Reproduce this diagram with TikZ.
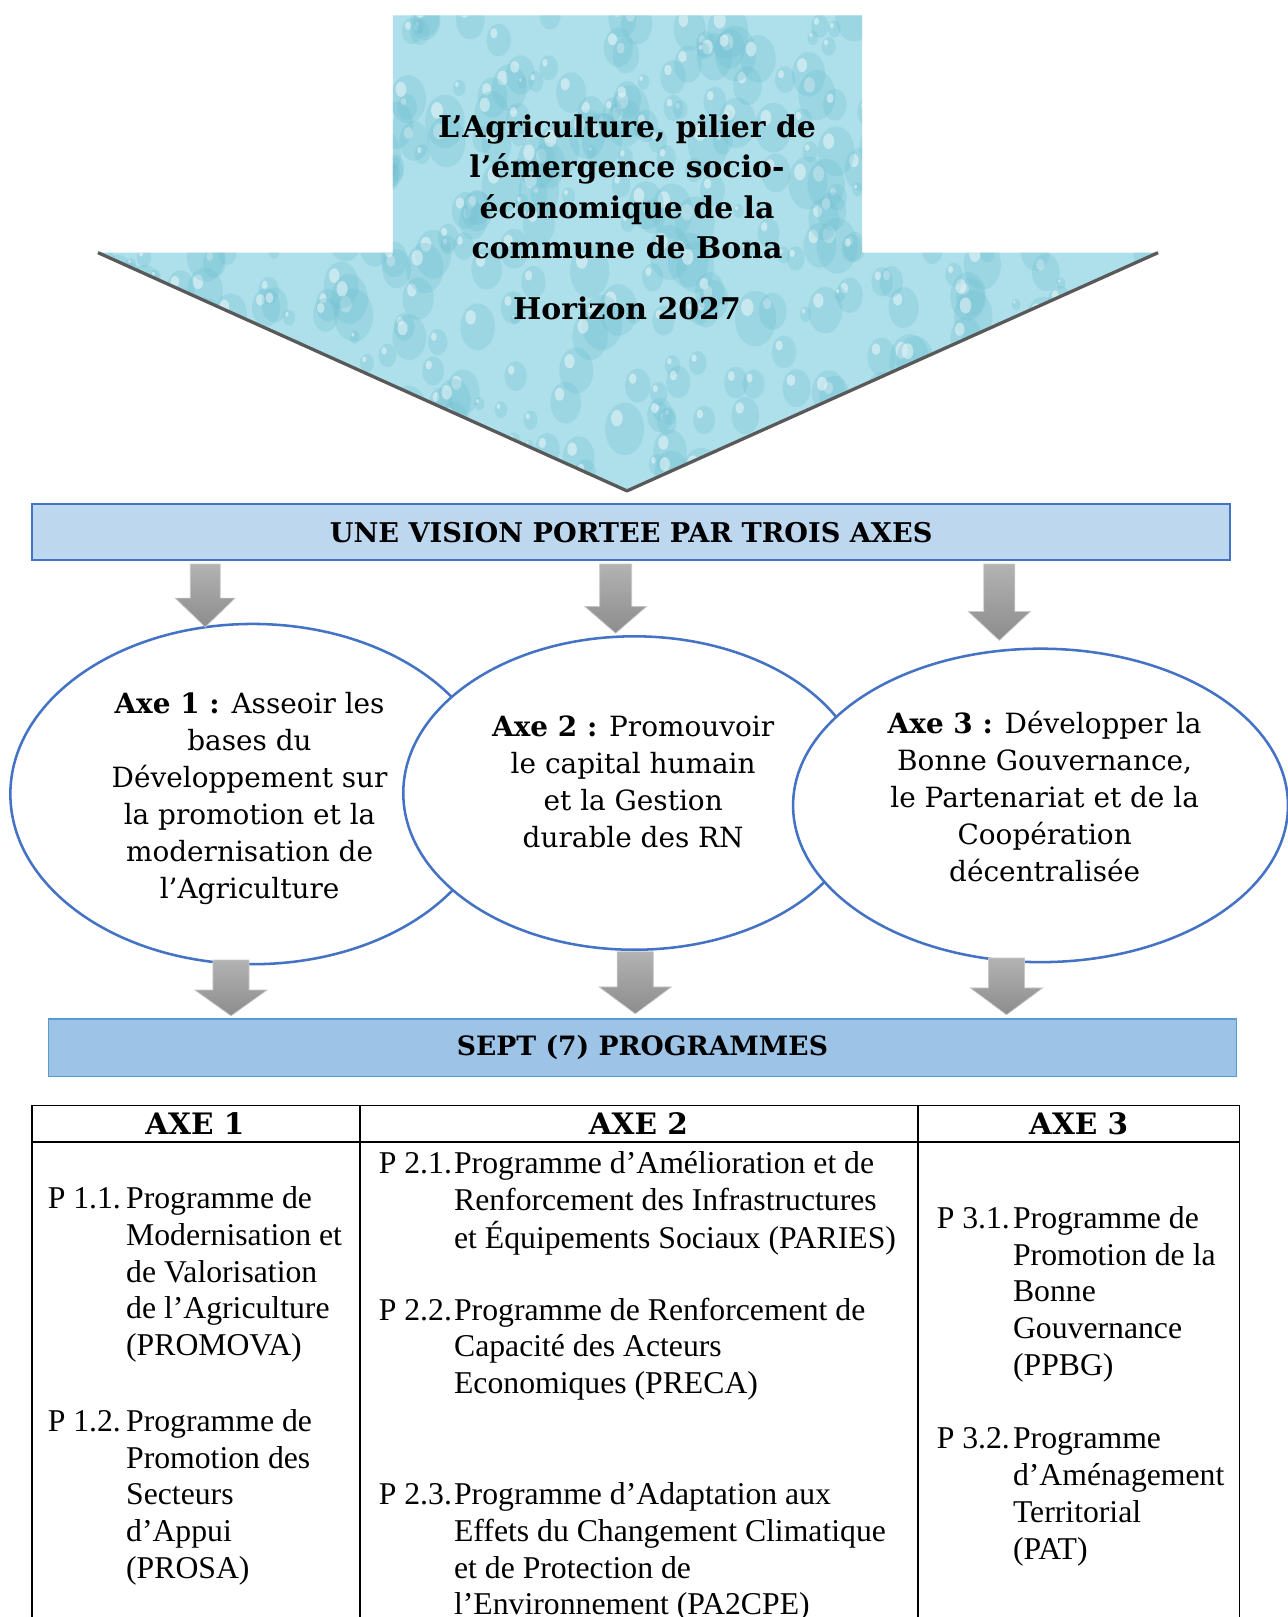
\documentclass[tikz,border=0pt]{standalone}
\usepackage{fontspec}
\setmainfont{Liberation Serif}
\newfontfamily\bookfont{DejaVu Serif}
\usetikzlibrary{shapes.geometric}

\definecolor{drop}{HTML}{ADE0EA}
\definecolor{dropdark}{HTML}{72BFD2}
\definecolor{visionblue}{HTML}{BDD7EE}
\definecolor{progblue}{HTML}{9DC3E6}
\definecolor{lineblue}{HTML}{4472C4}
\definecolor{edgeblue}{HTML}{5B9BD5}

\newcommand{\lignes}[1]{\begin{tabular}[t]{@{}l@{}}#1\end{tabular}}
\newcommand{\centrees}[1]{\begin{tabular}[t]{@{}c@{}}#1\end{tabular}}
\newcommand{\grayarr}[6]{\shade[garrow] (#1-#5,#2) -- (#1+#5,#2) -- (#1+#5,#3) -- (#1+#6,#3) -- (#1,#4) -- (#1-#6,#3) -- (#1-#5,#3) -- cycle;}

\tikzstyle{arrowtxt} = [anchor=base, inner sep=0pt, font=\bookfont\bfseries\fontsize{16.5}{22.4}\selectfont]
\tikzstyle{shadowline} = [draw=black!65, line width=1.8pt, line join=round]
\tikzstyle{band} = [draw=lineblue, line width=0.9pt, inner sep=0pt, font=\bookfont\bfseries\fontsize{15}{18}\selectfont]
\tikzstyle{axe} = [ellipse, draw=lineblue, line width=1.4pt, fill=white, inner sep=0pt]
\tikzstyle{axetxt} = [anchor=base, inner sep=0pt, font=\bookfont\fontsize{15.4}{20.4}\selectfont]
\tikzstyle{garrow} = [top color=black!30, bottom color=black!45, draw=black!22, line width=0.4pt]
\tikzstyle{tabline} = [line width=1pt]
\tikzstyle{colhead} = [anchor=base, inner sep=0pt, font=\bookfont\bfseries\fontsize{16.3}{18}\selectfont]
\tikzstyle{plabel} = [anchor=base west, inner sep=0pt, font=\fontsize{17.5}{20.3}\selectfont]
\tikzstyle{ptext} = [anchor=base west, inner sep=0pt, font=\fontsize{17.5}{20.3}\selectfont]

\begin{document}
\begin{tikzpicture}[x=0.02cm, y=-0.02cm]
\useasboundingbox (0,0) rectangle (1248,1568);
\fill[white] (0,0) rectangle (1248,1568);

% vision arrow
\begin{scope}
	\clip (381,15) -- (836,15) -- (836,245) -- (1123,245) -- (608,476) -- (95,245) -- (381,245) -- cycle;
	\fill[drop] (90,10) rectangle (1130,480);
	\pgfmathsetseed{12}
	\foreach \i in {1,...,520}{
		\pgfmathsetmacro{\dx}{90+1040*rnd}
		\pgfmathsetmacro{\dy}{10+470*rnd}
		\pgfmathsetmacro{\dr}{4+16*rnd}
		\pgfmathsetmacro{\dh}{1.35*\dr}
		\pgfmathsetmacro{\hx}{\dx-0.4*\dr}
		\pgfmathsetmacro{\hy}{\dy-0.55*\dr}
		\pgfmathsetmacro{\hr}{0.3*\dr}
		\fill[dropdark, opacity=.3] (\dx,\dy) ellipse [x radius=\dr, y radius=\dh];
		\fill[white, opacity=.45] (\hx,\hy) ellipse [x radius=\hr, y radius=1.4*\hr];
	}
\end{scope}
\draw[shadowline] (95,245) -- (608,476) -- (1123,245);
\node[arrowtxt] (vision) at (608,133) {\centrees{L’Agriculture, pilier de\\l’émergence socio-\\économique de la\\commune de Bona}};
\node[arrowtxt] (horizon) at (608,310) {Horizon 2027};

% the three axes
\node[band, fill=visionblue, minimum width=23.24cm, minimum height=1.08cm] (axes) at (612,516) {UNE VISION PORTEE PAR TROIS AXES};

\node[axe, minimum width=9.4cm, minimum height=6.6cm] (e1) at (245,770) {};
\node[axe, minimum width=8.96cm, minimum height=6.08cm] (e2) at (615,769) {};
\node[axe, minimum width=9.6cm, minimum height=6.08cm] (e3) at (1009,781) {};

\node[axetxt] (t1) at (242,692) {\centrees{\textbf{Axe 1 :} Asseoir les\\bases du\\Développement sur\\la promotion et la\\modernisation de\\l’Agriculture}};
\node[axetxt] (t2) at (614,714) {\centrees{\textbf{Axe 2 :} Promouvoir\\le capital humain\\et la Gestion\\durable des RN}};
\node[axetxt] (t3) at (1013,711) {\centrees{\textbf{Axe 3 :} Développer la\\Bonne Gouvernance,\\le Partenariat et de la\\Coopération\\décentralisée}};

\grayarr{199}{547}{580}{608}{14.5}{29}
\grayarr{597}{547}{588}{614}{15.5}{30}
\grayarr{969}{547}{593}{621}{15}{30}

\node[band, draw=edgeblue, fill=progblue, minimum width=23.04cm, minimum height=1.12cm, font=\bookfont\bfseries\fontsize{14.7}{18}\selectfont] (progs) at (623,1016) {SEPT (7) PROGRAMMES};

\grayarr{224}{931}{960}{985}{17.5}{35}
\grayarr{616}{923}{957}{983}{17.5}{35}
\grayarr{976}{929}{958}{984}{17.5}{35}

% table of programmes
\draw[tabline] (31,1600) -- (31,1072) -- (1202,1072) -- (1202,1600);
\draw[tabline] (31,1107) -- (1202,1107);
\draw[tabline] (349,1072) -- (349,1600);
\draw[tabline] (890,1072) -- (890,1600);

\node[colhead] (h1) at (189,1100) {AXE 1};
\node[colhead] (h2) at (619,1100) {AXE 2};
\node[colhead] (h3) at (1046,1100) {AXE 3};

\node[plabel] (l11) at (46,1172) {P 1.1.};
\node[ptext] (p11) at (122,1172) {\lignes{Programme de\\Modernisation et\\de Valorisation\\de l’Agriculture\\(PROMOVA)}};
\node[plabel] (l12) at (46,1388) {P 1.2.};
\node[ptext] (p12) at (122,1388) {\lignes{Programme de\\Promotion des\\Secteurs\\d’Appui\\(PROSA)}};

\node[plabel] (l21) at (367,1138) {P 2.1.};
\node[ptext] (p21) at (440,1138) {\lignes{Programme d’Amélioration et de\\Renforcement des Infrastructures\\et Équipements Sociaux (PARIES)}};
\node[plabel] (l22) at (367,1280) {P 2.2.};
\node[ptext] (p22) at (440,1280) {\lignes{Programme de Renforcement de\\Capacité des Acteurs\\Economiques (PRECA)}};
\node[plabel] (l23) at (367,1459) {P 2.3.};
\node[ptext] (p23) at (440,1459) {\lignes{Programme d’Adaptation aux\\Effets du Changement Climatique\\et de Protection de\\l’Environnement (PA2CPE)}};

\node[plabel] (l31) at (908,1191) {P 3.1.};
\node[ptext] (p31) at (982,1191) {\lignes{Programme de\\Promotion de la\\Bonne\\Gouvernance\\(PPBG)}};
\node[plabel] (l32) at (908,1405) {P 3.2.};
\node[ptext] (p32) at (982,1405) {\lignes{Programme\\d’Aménagement\\Territorial\\(PAT)}};
\end{tikzpicture}
\end{document}
